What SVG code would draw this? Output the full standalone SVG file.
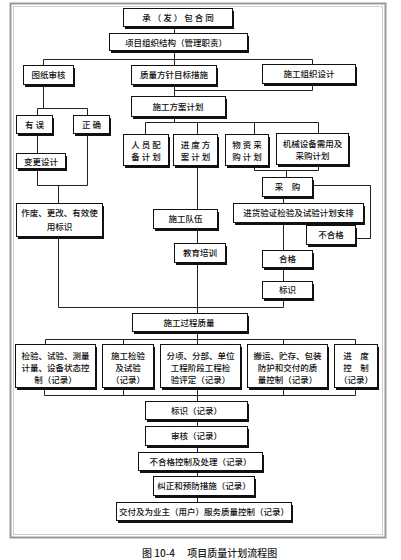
<svg xmlns="http://www.w3.org/2000/svg" width="401" height="560" viewBox="0 0 401 560">
<style>
  .sh{fill:#111;}
  .bx{fill:#fff;stroke:#111;stroke-width:1;}
  .t{font-family:"Noto Sans CJK SC","Noto Sans CJK JP",sans-serif;font-size:8.5px;font-weight:500;fill:#111;text-anchor:middle;}
  .w{letter-spacing:2px;}
  .c{fill:none;stroke:#222;stroke-width:1;}
  .cap{font-family:"Noto Sans CJK SC",sans-serif;font-size:10px;font-weight:500;fill:#222;}
</style>
<rect width="401" height="560" fill="#fff"/>
<rect x="10.5" y="3.5" width="375" height="534" fill="none" stroke="#999" stroke-width="2"/>
<rect x="13.5" y="6.5" width="369" height="528" fill="none" stroke="#ccc" stroke-width="1"/>

<g id="connectors" class="c">
  <path d="M174.5 27V34"/>
  <path d="M174.5 51V66"/>
  <path d="M43.5 66V59.5H312.5V65"/>
  <path d="M174.5 85V97"/>
  <path d="M174.5 90.5H312.5V84"/>
  <path d="M174.5 117V122.5"/>
  <path d="M145.5 135V122.5H318.5V134"/>
  <path d="M197.5 122.5V135"/>
  <path d="M254.5 122.5V135"/>
  <path d="M43.5 85V108.5"/>
  <path d="M37.5 116V108.5H87.5V116"/>
  <path d="M37.5 134V154"/>
  <path d="M37.5 169V185.5H87.5V134"/>
  <path d="M58.5 185.5V204"/>
  <path d="M58.5 237V307.5H283.5"/>
  <path d="M197.5 166V210"/>
  <path d="M197.5 229V244"/>
  <path d="M197.5 263V314"/>
  <path d="M254.5 166V170.5H318.5V165"/>
  <path d="M286.5 170.5V178"/>
  <path d="M283.5 197V204"/>
  <path d="M312 185.5H370.5V238.5H355"/>
  <path d="M283.5 223V251"/>
  <path d="M283.5 268V282"/>
  <path d="M283.5 299V307.5"/>
  <path d="M197.5 332V339.5"/>
  <path d="M45.5 345V339.5H355.5V345"/>
  <path d="M123.5 339.5V345"/>
  <path d="M197.5 339.5V345"/>
  <path d="M283.5 339.5V345"/>
  <path d="M44.5 388V395.5H355.5V388"/>
  <path d="M123.5 388V395.5"/>
  <path d="M197.5 388V402"/>
  <path d="M283.5 388V395.5"/>
  <path d="M197.5 420V427"/>
  <path d="M197.5 446V453"/>
  <path d="M197.5 471V477"/>
  <path d="M197.5 496V503"/>
</g>

<g id="n1"><rect class="sh" x="125" y="11" width="109" height="18"/><rect class="bx" x="123.5" y="8.5" width="109" height="18"/><text class="t w" x="179" y="21">承（发）包合同</text></g>
<g id="n2"><rect class="sh" x="111" y="36" width="138" height="17"/><rect class="bx" x="109.5" y="33.5" width="138" height="17"/><text class="t" x="176" y="45.5">项目组织结构（管理职责）</text></g>
<g id="n3"><rect class="sh" x="25" y="68" width="50" height="19"/><rect class="bx" x="23.5" y="65.5" width="50" height="19"/><text class="t" x="48.5" y="78">图纸审核</text></g>
<g id="n4"><rect class="sh" x="133" y="68" width="85" height="19"/><rect class="bx" x="131.5" y="65.5" width="85" height="19"/><text class="t" x="174" y="78">质量方针目标措施</text></g>
<g id="n5"><rect class="sh" x="264" y="67" width="93" height="19"/><rect class="bx" x="262.5" y="64.5" width="93" height="19"/><text class="t" x="309" y="77">施工组织设计</text></g>
<g id="n6"><rect class="sh" x="133" y="99" width="94" height="20"/><rect class="bx" x="131.5" y="96.5" width="94" height="20"/><text class="t" x="178" y="109.5">施工方案计划</text></g>

<g id="n7"><rect class="sh" x="18" y="118" width="36" height="18"/><rect class="bx" x="16.5" y="115.5" width="36" height="18"/><text class="t w" x="35.5" y="127.5">有误</text></g>
<g id="n8"><rect class="sh" x="75" y="118" width="36" height="18"/><rect class="bx" x="73.5" y="115.5" width="36" height="18"/><text class="t w" x="92.5" y="127.5">正确</text></g>
<g id="n9"><rect class="sh" x="18" y="156" width="49" height="15"/><rect class="bx" x="16.5" y="153.5" width="49" height="15"/><text class="t" x="41" y="164.5">变更设计</text></g>
<g id="n10"><rect class="sh" x="18" y="206" width="86" height="33"/><rect class="bx" x="16.5" y="203.5" width="86" height="33"/><text class="t" x="59.5" y="216">作废、更改、有效使</text><text class="t" x="59.5" y="230">用标识</text></g>

<g id="n11"><rect class="sh" x="125" y="137" width="45" height="31"/><rect class="bx" x="123.5" y="134.5" width="45" height="31"/><text class="t w" x="147" y="148">人员配</text><text class="t w" x="147" y="160">备计划</text></g>
<g id="n12"><rect class="sh" x="175" y="137" width="44" height="31"/><rect class="bx" x="173.5" y="134.5" width="44" height="31"/><text class="t w" x="196.5" y="148">进度方</text><text class="t w" x="196.5" y="160">案计划</text></g>
<g id="n13"><rect class="sh" x="227" y="137" width="43" height="31"/><rect class="bx" x="225.5" y="134.5" width="43" height="31"/><text class="t w" x="248" y="148">物资采</text><text class="t w" x="248" y="160">购计划</text></g>
<g id="n14"><rect class="sh" x="278" y="136" width="72" height="31"/><rect class="bx" x="276.5" y="133.5" width="72" height="31"/><text class="t" x="312.5" y="147">机械设备需用及</text><text class="t" x="312.5" y="159">采购计划</text></g>

<g id="n15"><rect class="sh" x="155" y="212" width="64" height="19"/><rect class="bx" x="153.5" y="209.5" width="64" height="19"/><text class="t" x="185.5" y="222">施工队伍</text></g>
<g id="n16"><rect class="sh" x="176" y="246" width="51" height="19"/><rect class="bx" x="174.5" y="243.5" width="51" height="19"/><text class="t" x="200" y="256">教育培训</text></g>

<g id="n17"><rect class="sh" x="264" y="180" width="50" height="19"/><rect class="bx" x="262.5" y="177.5" width="50" height="19"/><text class="t" x="287.5" y="190">采　购</text></g>
<g id="n18"><rect class="sh" x="235" y="206" width="130" height="19"/><rect class="bx" x="233.5" y="203.5" width="130" height="19"/><text class="t" x="298.5" y="216">进货验证检验及试验计划安排</text></g>
<g id="n19"><rect class="sh" x="308" y="228" width="49" height="19"/><rect class="bx" x="306.5" y="225.5" width="49" height="19"/><text class="t" x="331" y="238">不合格</text></g>
<g id="n20"><rect class="sh" x="264" y="253" width="50" height="17"/><rect class="bx" x="262.5" y="250.5" width="50" height="17"/><text class="t" x="287.5" y="262">合格</text></g>
<g id="n21"><rect class="sh" x="264" y="284" width="50" height="17"/><rect class="bx" x="262.5" y="281.5" width="50" height="17"/><text class="t" x="287.5" y="293">标识</text></g>

<g id="n22"><rect class="sh" x="134" y="316" width="115" height="18"/><rect class="bx" x="132.5" y="313.5" width="115" height="18"/><text class="t" x="189" y="325.5">施工过程质量</text></g>

<g id="n23"><rect class="sh" x="17" y="347" width="80" height="43"/><rect class="bx" x="15.5" y="344.5" width="80" height="43"/><text class="t" x="55.5" y="359">检验、试验、测量</text><text class="t" x="55.5" y="371">计量、设备状态控</text><text class="t" x="55.5" y="383">制（记录）</text></g>
<g id="n24"><rect class="sh" x="104" y="347" width="51" height="43"/><rect class="bx" x="102.5" y="344.5" width="51" height="43"/><text class="t" x="128" y="359">施工检验</text><text class="t" x="128" y="371">及试验</text><text class="t" x="128" y="383">（记录）</text></g>
<g id="n25"><rect class="sh" x="162" y="347" width="80" height="43"/><rect class="bx" x="160.5" y="344.5" width="80" height="43"/><text class="t" x="200.5" y="359">分项、分部、单位</text><text class="t" x="200.5" y="371">工程阶段工程检</text><text class="t" x="200.5" y="383">验评定（记录）</text></g>
<g id="n26"><rect class="sh" x="249" y="347" width="80" height="43"/><rect class="bx" x="247.5" y="344.5" width="80" height="43"/><text class="t" x="287.5" y="359">搬运、贮存、包装</text><text class="t" x="287.5" y="371">防护和交付的质</text><text class="t" x="287.5" y="383">量控制（记录）</text></g>
<g id="n27"><rect class="sh" x="336" y="347" width="43" height="43"/><rect class="bx" x="334.5" y="344.5" width="43" height="43"/><text class="t" x="356" y="359">进　度</text><text class="t" x="356" y="371">控　制</text><text class="t" x="356" y="383">（记录）</text></g>

<g id="n28"><rect class="sh" x="147" y="404" width="102" height="18"/><rect class="bx" x="145.5" y="401.5" width="102" height="18"/><text class="t" x="196.5" y="413.5">标识（记录）</text></g>
<g id="n29"><rect class="sh" x="147" y="429" width="102" height="19"/><rect class="bx" x="145.5" y="426.5" width="102" height="19"/><text class="t" x="196.5" y="439">审核（记录）</text></g>
<g id="n30"><rect class="sh" x="140" y="455" width="124" height="18"/><rect class="bx" x="138.5" y="452.5" width="124" height="18"/><text class="t" x="200.5" y="464.5">不合格控制及处理（记录）</text></g>
<g id="n31"><rect class="sh" x="155" y="479" width="101" height="19"/><rect class="bx" x="153.5" y="476.5" width="101" height="19"/><text class="t" x="204" y="489">纠正和预防措施（记录）</text></g>
<g id="n32"><rect class="sh" x="118" y="505" width="175" height="18"/><rect class="bx" x="116.5" y="502.5" width="175" height="18"/><text class="t" x="204" y="514.5">交付及为业主（用户）服务质量控制（记录）</text></g>

<text class="cap" x="142" y="556.5">图 10-4　 项目质量计划流程图</text>
</svg>
